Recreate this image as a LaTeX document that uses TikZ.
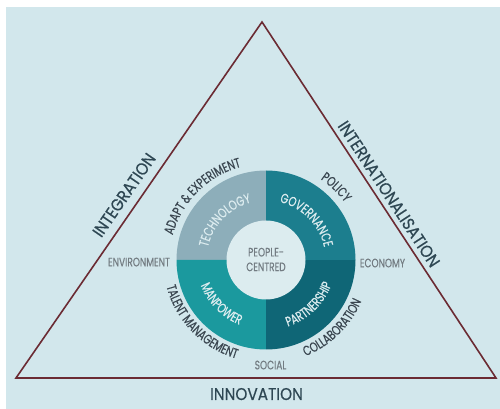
\documentclass[tikz,border=0pt]{standalone}
\usepackage{fontspec}
\setmainfont{Poppins}
\newfontfamily\widefont[FakeStretch=0.9,FakeBold=0.5]{Poppins}
\newfontfamily\narrowfont[FakeStretch=0.74,FakeBold=0.4]{Poppins}
\usetikzlibrary{decorations.text}

\definecolor{paper}{HTML}{D2E7EC}
\definecolor{hub}{HTML}{DCECEF}
\definecolor{techblue}{HTML}{8DAEBA}
\definecolor{govteal}{HTML}{1C7E8E}
\definecolor{partteal}{HTML}{0F6676}
\definecolor{manteal}{HTML}{1B999E}
\definecolor{edgered}{HTML}{6B2B33}
\definecolor{slate}{HTML}{2E4753}
\definecolor{darkgray}{HTML}{3A4650}
\definecolor{midgray}{HTML}{737C82}

\newcommand{\arcfont}{\narrowfont\fontsize{13.5}{13.5}\selectfont}
\newcommand{\ringfont}{\narrowfont\fontsize{13.5}{13.5}\selectfont}

\tikzset{
  side/.style={inner sep=0pt, text depth=0pt, text=slate, font=\widefont\fontsize{17}{17}\selectfont},
  plain/.style={inner sep=0pt, text depth=0pt, text=midgray, font=\narrowfont\fontsize{12.2}{12.2}\selectfont},
  outer/.style={decorate, decoration={text along path, text align=center, text color=darkgray}},
  inner/.style={decorate, decoration={text along path, text align=center, text color=hub}},
}

\begin{document}
\begin{tikzpicture}[x=1pt,y=1pt]
    % Background
    \path[use as bounding box] (0,0) rectangle (500,409);
    \fill[paper] (6,0) rectangle (500,402);

    % Triangle
    \coordinate (apex) at (262,387);
    \coordinate (left) at (16,31);
    \coordinate (right) at (496,31);
    \draw[edgered, line width=1.6pt, line join=miter] (apex) -- (left) -- (right) -- cycle;

    % Sides
    \node[side, rotate=55.4] (integration) at (124,214) {INTEGRATION};
    \node[side, rotate=-56.7] (internationalisation) at (389,215) {INTERNATIONALISATION};
    \node[side] (innovation) at (256.5,15) {INNOVATION};

    % Ring quarters
    \coordinate (c) at (266,149);
    \fill[techblue] (c) -- ++(90:89.5) arc[start angle=90, end angle=180, radius=89.5] -- cycle;
    \fill[manteal] (c) -- ++(180:89.5) arc[start angle=180, end angle=270, radius=89.5] -- cycle;
    \fill[partteal] (c) -- ++(270:89.5) arc[start angle=270, end angle=360, radius=89.5] -- cycle;
    \fill[govteal] (c) -- ++(0:89.5) arc[start angle=0, end angle=90, radius=89.5] -- cycle;
    \fill[hub] (c) circle (39.5);

    % Centre and compass words
    \node[plain, align=center] (people) at (266,149.5) {PEOPLE-\\[2.5pt]CENTRED};
    \node[plain] (environment) at (139,147) {ENVIRONMENT};
    \node[plain] (economy) at (382.5,146) {ECONOMY};
    \node[plain] (social) at (270.5,44) {SOCIAL};

    % Words inside the ring
    \path[inner, decoration={text={|\ringfont|TECHNOLOGY}}] ([shift={(196:59.5)}]c) arc[start angle=196, end angle=76, radius=59.5];
    \path[inner, decoration={text={|\ringfont|GOVERNANCE}}] ([shift={(104.5:59.5)}]c) arc[start angle=104.5, end angle=-15.5, radius=59.5];
    \path[inner, decoration={text={|\ringfont|MANPOWER}}] ([shift={(164.5:70)}]c) arc[start angle=164.5, end angle=284.5, radius=70];
    \path[inner, decoration={text={|\ringfont|PARTNERSHIP}}] ([shift={(254:70)}]c) arc[start angle=254, end angle=374, radius=70];

    % Words round the ring
    \path[outer, decoration={text={|\arcfont|ADAPT {\&} EXPERIMENT}}] ([shift={(195:96.5)}]c) arc[start angle=195, end angle=75, radius=96.5];
    \path[outer, decoration={text={|\arcfont|POLICY}}] ([shift={(106:97.5)}]c) arc[start angle=106, end angle=-14, radius=97.5];
    \path[outer, decoration={text={|\arcfont|TALENT MANAGEMENT}}] ([shift={(164:103)}]c) arc[start angle=164, end angle=284, radius=103];
    \path[outer, decoration={text={|\arcfont|COLLABORATION}}] ([shift={(254.5:104)}]c) arc[start angle=254.5, end angle=374.5, radius=104];
\end{tikzpicture}
\end{document}
